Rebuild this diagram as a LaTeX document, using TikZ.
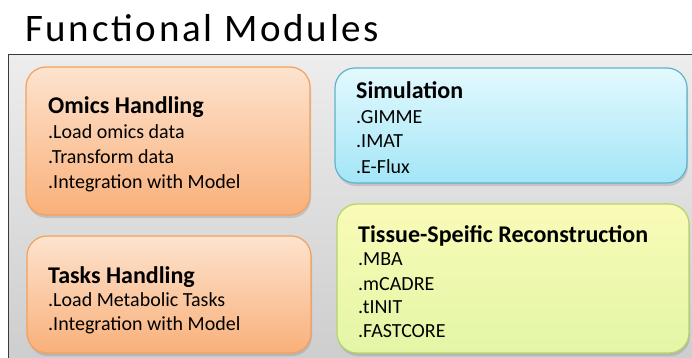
\documentclass[tikz,border=0pt]{standalone}
\usepackage{fontspec}
\setmainfont{Carlito}
\newfontfamily\titlefont[LetterSpace=7]{Carlito}
\usetikzlibrary{shadows}
\definecolor{frameTop}{HTML}{EDEDED}
\definecolor{frameBot}{HTML}{CACACA}
\definecolor{frameLine}{HTML}{3A3A3A}
\definecolor{orTop}{HTML}{FDE3CE}
\definecolor{orBot}{HTML}{F9B07A}
\definecolor{orLine}{HTML}{F3A15C}
\definecolor{cyTop}{HTML}{E3F9FE}
\definecolor{cyBot}{HTML}{A3E6F7}
\definecolor{cyLine}{HTML}{5FB2CB}
\definecolor{ylTop}{HTML}{F9FBB7}
\definecolor{ylBot}{HTML}{E3F6A6}
\definecolor{ylLine}{HTML}{B5D36A}
\tikzset{
  modbox/.style={draw, rounded corners=20pt, line width=1.2pt, inner sep=0pt,
    drop shadow={opacity=0.3, shadow xshift=1pt, shadow yshift=-3pt}},
  orbox/.style={modbox, draw=orLine, top color=orTop, bottom color=orBot},
  cybox/.style={modbox, draw=cyLine, top color=cyTop, bottom color=cyBot},
  ylbox/.style={modbox, draw=ylLine, top color=ylTop, bottom color=ylBot},
  frame/.style={draw=frameLine, line width=1.3pt, top color=frameTop, bottom color=frameBot,
    inner sep=0pt, anchor=north west},
  hd/.style={anchor=base west, inner sep=0pt, font=\fontsize{24}{24}\selectfont\bfseries},
  ln/.style={anchor=base west, inner sep=0pt, font=\fontsize{20}{20}\selectfont},
}
\begin{document}
\begin{tikzpicture}[x=1pt,y=-1pt]
\useasboundingbox (0,0) rectangle (692,358);
\node[anchor=base west, inner sep=0pt, font=\titlefont\fontsize{39}{39}\selectfont] (title) at (25,42) {Functional Modules};
\node[frame, minimum width=720pt, minimum height=340pt] (frm) at (8,54) {};
% boxes
\node[orbox, minimum width=284pt, minimum height=148pt] (omics) at (168,141) {};
\node[orbox, minimum width=284pt, minimum height=117pt] (tasks) at (169,294.5) {};
\node[cybox, minimum width=352pt, minimum height=115pt] (sim) at (511,125.5) {};
\node[ylbox, minimum width=352pt, minimum height=149pt] (tis) at (513,278.5) {};
% omics text
\node[hd] (o0) at (48,114) {Omics Handling};
\node[ln] (o1) at (48,139) {.Load omics data};
\node[ln] (o2) at (48,163) {.Transform data};
\node[ln] (o3) at (48,188) {.Integration with Model};
% tasks text
\node[hd] (t0) at (48,283) {Tasks Handling};
\node[ln] (t1) at (48,306) {.Load Metabolic Tasks};
\node[ln] (t2) at (48,330) {.Integration with Model};
% simulation text
\node[hd] (s0) at (356,99) {Simulation};
\node[ln] (s1) at (356,124) {.GIMME};
\node[ln] (s2) at (356,148) {.IMAT};
\node[ln] (s3) at (356,173) {.E-Flux};
% tissue text
\node[hd] (r0) at (358,242) {Tissue-Speific Reconstruction};
\node[ln] (r1) at (358,265) {.MBA};
\node[ln] (r2) at (358,290) {.mCADRE};
\node[ln] (r3) at (358,313) {.tINIT};
\node[ln] (r4) at (358,337) {.FASTCORE};
\end{tikzpicture}
\end{document}
